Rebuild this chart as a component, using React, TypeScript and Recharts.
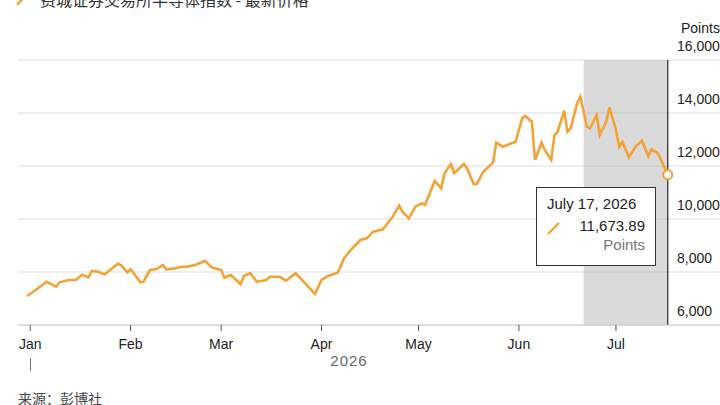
import React from "react";
import {
  LineChart,
  Line,
  XAxis,
  YAxis,
  CartesianGrid,
  ReferenceArea,
  ReferenceLine,
  ReferenceDot,
} from "recharts";

// ---- data ----
const DATES = [
  "2025-12-31", "2026-01-03", "2026-01-06", "2026-01-09", "2026-01-10", "2026-01-13", "2026-01-15",
  "2026-01-17", "2026-01-19", "2026-01-20", "2026-01-22", "2026-01-24", "2026-01-28", "2026-01-29",
  "2026-01-31", "2026-02-01", "2026-02-02", "2026-02-04", "2026-02-05", "2026-02-07", "2026-02-09",
  "2026-02-11", "2026-02-12", "2026-02-15", "2026-02-16", "2026-02-17", "2026-02-18", "2026-02-21",
  "2026-02-24", "2026-02-26", "2026-03-01", "2026-03-02", "2026-03-04", "2026-03-07", "2026-03-08",
  "2026-03-10", "2026-03-12", "2026-03-15", "2026-03-16", "2026-03-19", "2026-03-21", "2026-03-24",
  "2026-03-27", "2026-03-30", "2026-04-01", "2026-04-03", "2026-04-06", "2026-04-08", "2026-04-10",
  "2026-04-13", "2026-04-15", "2026-04-17", "2026-04-20", "2026-04-22", "2026-04-23", "2026-04-25",
  "2026-04-26", "2026-04-28", "2026-04-30", "2026-05-02", "2026-05-03", "2026-05-06", "2026-05-08",
  "2026-05-09", "2026-05-11", "2026-05-12", "2026-05-15", "2026-05-16", "2026-05-18", "2026-05-19",
  "2026-05-21", "2026-05-24", "2026-05-25", "2026-05-27", "2026-05-29", "2026-05-31", "2026-06-01",
  "2026-06-02", "2026-06-03", "2026-06-05", "2026-06-06", "2026-06-08", "2026-06-09", "2026-06-11",
  "2026-06-12", "2026-06-13", "2026-06-15", "2026-06-16", "2026-06-17", "2026-06-19", "2026-06-20",
  "2026-06-22", "2026-06-23", "2026-06-25", "2026-06-26", "2026-06-28", "2026-06-29", "2026-07-01",
  "2026-07-02", "2026-07-03", "2026-07-05", "2026-07-07", "2026-07-09", "2026-07-11", "2026-07-12",
  "2026-07-14", "2026-07-17",
];

const VALUES = [
  7094, 7347, 7634, 7445, 7611, 7698, 7698,
  7898, 7800, 8038, 8011, 7913, 8302, 8264,
  7989, 8102, 7951, 7611, 7634, 8075, 8113,
  8264, 8102, 8140, 8177, 8200, 8200, 8264,
  8426, 8177, 8075, 7785, 7887, 7536, 7849,
  7951, 7634, 7698, 7823, 7823, 7672, 7951,
  7573, 7170, 7698, 7849, 7974, 8517, 8830,
  9208, 9272, 9521, 9611, 9936, 10087, 10502,
  10275, 10026, 10464, 10592, 10528, 11445, 11158,
  11725, 12075, 11725, 12075, 11913, 11321, 11321,
  11785, 12125, 12879, 12728, 12819, 12917, 13358,
  13800, 13887, 13672, 12226, 12879, 12604, 12226,
  13170, 13294, 14087, 13294, 13421, 14366, 14615,
  13483, 13421, 13924, 13170, 13672, 14215, 13358,
  12728, 12917, 12328, 12728, 12955, 12377, 12630,
  12479, 11673.89,
];

const MONTH_TICKS = ["2026-01-01", "2026-02-01", "2026-03-01", "2026-04-01", "2026-05-01", "2026-06-01", "2026-07-01"];
const MONTH_LABELS = ["Jan", "Feb", "Mar", "Apr", "May", "Jun", "Jul"];
const Y_TICKS = [6000, 8000, 10000, 12000, 14000, 16000];
const SHADE_START = "2026-06-21";
const TITLE = "费城证券交易所半导体指数 - 最新价格";
const SOURCE = "来源：彭博社";
const YEAR_LABEL = "2026";
const UNIT = "Points";
const TOOLTIP_DATE = "July 17, 2026";

// ---- helpers ----
const BASE = Date.UTC(2026, 0, 1);
const toDay = (s: string) => {
  const [y, m, d] = s.split("-").map(Number);
  return (Date.UTC(y, m - 1, d) - BASE) / 86400000;
};

const data = DATES.map((d, i) => ({ t: toDay(d), v: VALUES[i] }));
const monthTickDays = MONTH_TICKS.map(toDay);
const last = data[data.length - 1];

const ORANGE = "#F4A236";
const FONT = "'Liberation Sans', Arial, Helvetica, sans-serif";
const CJK = "'Noto Sans CJK SC', 'Liberation Sans', sans-serif";

const YTick = (props: any) => {
  const { y, payload } = props;
  return (
    <text
      x={677}
      y={y - 13}
      dominantBaseline="middle"
      fontSize={14}
      fontFamily={FONT}
      fill="#222"
    >
      {Number(payload.value).toLocaleString("en-US")}
    </text>
  );
};

const XTick = (props: any) => {
  const { x, y, payload } = props;
  const idx = monthTickDays.indexOf(payload.value);
  return (
    <text
      x={x}
      y={y + 12}
      textAnchor="middle"
      dominantBaseline="middle"
      fontSize={14}
      fontFamily={FONT}
      fill="#222"
    >
      {MONTH_LABELS[idx] ?? ""}
    </text>
  );
};

export default function App() {
  return (
    <div
      style={{
        position: "fixed",
        left: 0,
        top: 0,
        width: 720,
        height: 405,
        background: "#fff",
        overflow: "hidden",
      }}
    >
      <LineChart
        width={721}
        height={405}
        data={data}
        margin={{ top: 60, right: 0, bottom: 50, left: 18 }}
      >
        <CartesianGrid vertical={false} stroke="#dddddd" strokeWidth={1} />
        <ReferenceArea
          x1={toDay(SHADE_START)}
          x2={last.t}
          y1={6000}
          y2={16000}
          fill="#bbbbbb"
          fillOpacity={0.55}
          stroke="none"
        />
        <XAxis
          type="number"
          dataKey="t"
          domain={[-3.79, 213.15]}
          ticks={monthTickDays}
          interval={0}
          height={30}
          axisLine={{ stroke: "#cccccc" }}
          tickLine={{ stroke: "#555" }}
          tickSize={6}
          tick={<XTick />}
          allowDataOverflow
        />
        <YAxis
          orientation="right"
          width={1}
          domain={[6000, 16000]}
          ticks={Y_TICKS}
          interval={0}
          axisLine={false}
          tickLine={false}
          tick={<YTick />}
          allowDataOverflow
        />
        <ReferenceLine x={last.t} stroke="#333" strokeWidth={1.3} />
        <Line
          type="linear"
          dataKey="v"
          stroke={ORANGE}
          strokeWidth={2.6}
          dot={false}
          isAnimationActive={false}
        />
        <ReferenceDot
          x={last.t}
          y={last.v}
          r={4.5}
          fill="#fff"
          stroke={ORANGE}
          strokeWidth={2}
        />
      </LineChart>
      <svg
        width={720}
        height={405}
        style={{ position: "absolute", left: 0, top: 0, pointerEvents: "none" }}
      >
        {/* title */}
        <line x1={17} y1={5} x2={24} y2={-3} stroke={ORANGE} strokeWidth={2.5} />
        <text x={40} y={6} fontSize={16} fontFamily={CJK} fill="#333">
          {TITLE}
        </text>
        {/* unit */}
        <text x={681} y={29} dominantBaseline="middle" fontSize={14} fontFamily={FONT} fill="#222">
          {UNIT}
        </text>
        {/* year */}
        <line x1={30.5} y1={358} x2={30.5} y2={371} stroke="#777" strokeWidth={1} />
        <text
          x={349}
          y={362}
          textAnchor="middle"
          dominantBaseline="middle"
          fontSize={15}
          fontFamily={FONT}
          fill="#666"
          letterSpacing={1}
        >
          {YEAR_LABEL}
        </text>
        {/* source */}
        <text x={18} y={404} fontSize={14} fontFamily={CJK} fill="#444">
          {SOURCE}
        </text>
        {/* tooltip */}
        <rect x={536.5} y={187.5} width={119} height={78} fill="#fff" stroke="#333" strokeWidth={1} />
        <text x={547} y={205} dominantBaseline="middle" fontSize={15} fontFamily={FONT} fill="#222">
          {TOOLTIP_DATE}
        </text>
        <line x1={548} y1={234} x2={559} y2={223} stroke={ORANGE} strokeWidth={2.3} />
        <text
          x={645}
          y={227}
          textAnchor="end"
          dominantBaseline="middle"
          fontSize={15}
          fontFamily={FONT}
          fill="#222"
        >
          {last.v.toLocaleString("en-US", { minimumFractionDigits: 2, maximumFractionDigits: 2 })}
        </text>
        <text
          x={645}
          y={246}
          textAnchor="end"
          dominantBaseline="middle"
          fontSize={15}
          fontFamily={FONT}
          fill="#777"
        >
          {UNIT}
        </text>
      </svg>
    </div>
  );
}
